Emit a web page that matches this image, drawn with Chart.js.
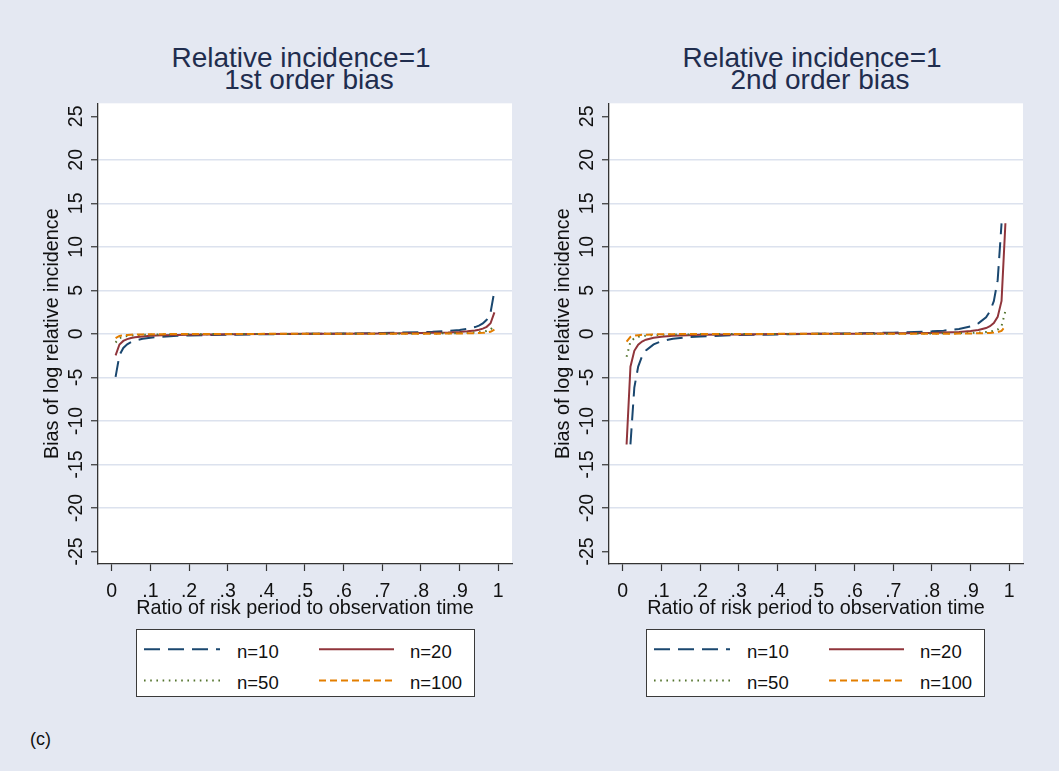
<!DOCTYPE html>
<html>
<head>
<meta charset="utf-8">
<script src="https://cdn.jsdelivr.net/npm/chart.js@4/dist/chart.umd.min.js"></script>
<style>
html,body{margin:0;padding:0;}
body{width:1059px;height:771px;background:rgb(228,232,242);position:relative;overflow:hidden;font-family:"Liberation Sans",Arial,sans-serif;}
canvas.panel{position:absolute;top:0;}
.t{position:absolute;white-space:nowrap;color:#1f2d4e;font-size:28px;line-height:28px;transform:translateX(-50%);}
.legend{position:absolute;top:629px;width:339px;height:68px;background:#fff;border:1px solid #3a3a3a;box-sizing:border-box;}
.legend svg{position:absolute;left:0;top:0;}
.legend span{position:absolute;font-size:18.5px;line-height:18px;color:#111;white-space:nowrap;}
.note{position:absolute;left:30px;top:730px;font-size:18px;line-height:18px;color:#111;}
</style>
</head>
<body>
<div class="t" style="left:301px;top:44px;">Relative incidence=1</div>
<div class="t" style="left:309px;top:66px;">1st order bias</div>
<div class="t" style="left:812px;top:44px;">Relative incidence=1</div>
<div class="t" style="left:820px;top:66px;">2nd order bias</div>
<canvas class="panel" id="c1" width="530" height="640" style="left:0px;"></canvas>
<canvas class="panel" id="c2" width="530" height="640" style="left:511px;"></canvas>
<div class="legend" id="lg1" style="left:136px;"></div>
<div class="legend" id="lg2" style="left:646px;"></div>
<div class="note">(c)</div>
<script>
// ---- data ----
const ratio = [0.01,0.02,0.03,0.04,0.05,0.06,0.08,0.10,0.13,0.17,0.20,0.30,0.40,0.50,0.60,0.70,0.80,0.83,0.87,0.90,0.92,0.94,0.95,0.96,0.97,0.98,0.99];

const first_n10  = [-4.95,-2.45,-1.62,-1.20,-0.95,-0.78,-0.57,-0.44,-0.33,-0.23,-0.19,-0.10,-0.04,0,0.04,0.10,0.19,0.23,0.33,0.44,0.57,0.78,0.95,1.20,1.62,2.45,4.95];
const first_n20  = [-2.47,-1.22,-0.81,-0.60,-0.47,-0.39,-0.29,-0.22,-0.16,-0.12,-0.09,-0.05,-0.02,0,0.02,0.05,0.09,0.12,0.16,0.22,0.29,0.39,0.47,0.60,0.81,1.22,2.47];
const first_n50  = [-0.99,-0.49,-0.32,-0.24,-0.19,-0.16,-0.11,-0.09,-0.07,-0.05,-0.04,-0.02,-0.01,0,0.01,0.02,0.04,0.05,0.07,0.09,0.11,0.16,0.19,0.24,0.32,0.49,0.99];
const first_n100 = [-0.49,-0.24,-0.16,-0.12,-0.09,-0.08,-0.06,-0.04,-0.03,-0.02,-0.02,-0.01,0,0,0,0.01,0.02,0.02,0.03,0.04,0.06,0.08,0.09,0.12,0.16,0.24,0.49];

const second_n10  = [null,-12.70,-6.17,-3.76,-2.58,-1.91,-1.21,-0.85,-0.56,-0.37,-0.29,-0.14,-0.06,0,0.06,0.14,0.29,0.37,0.56,0.85,1.21,1.91,2.58,3.76,6.17,12.70,null];
const second_n20  = [-12.72,-3.78,-1.95,-1.24,-0.88,-0.67,-0.45,-0.32,-0.22,-0.15,-0.11,-0.06,-0.02,0,0.02,0.06,0.11,0.15,0.22,0.32,0.45,0.67,0.88,1.24,1.95,3.78,12.72];
const second_n50  = [-2.63,-0.90,-0.50,-0.34,-0.26,-0.21,-0.14,-0.11,-0.08,-0.06,-0.04,-0.02,-0.01,0,0.01,0.02,0.04,0.06,0.08,0.11,0.14,0.21,0.26,0.34,0.50,0.90,2.63];
const second_n100 = [-0.90,-0.34,-0.21,-0.15,-0.11,-0.09,-0.07,-0.04,-0.03,-0.02,-0.02,-0.01,0,0,0,0.01,0.02,0.02,0.03,0.04,0.07,0.09,0.11,0.15,0.21,0.34,0.90];

const seriesNames = ["n=10","n=20","n=50","n=100"];
const xTicks = [0,0.1,0.2,0.3,0.4,0.5,0.6,0.7,0.8,0.9,1];
const xTickLabels = ["0",".1",".2",".3",".4",".5",".6",".7",".8",".9","1"];
const yTicks = [-25,-20,-15,-10,-5,0,5,10,15,20,25];
const yTickLabels = ["-25","-20","-15","-10","-5","0","5","10","15","20","25"];
const xTitle = "Ratio of risk period to observation time";
const yTitle = "Bias of log relative incidence";

// ---- styles ----
const seriesColors = ["#1a476f","#90353b","#55752f","#e37e00"];
const seriesDash = [[16,8],[],[1.6,4.6],[7,4]];
const seriesOrder = [4,3,2,1];

Chart.defaults.font.family = "'Liberation Sans', Arial, sans-serif";

const bgPlugin = {
  id:'plotbg',
  beforeDraw(chart){
    const {ctx, chartArea:a} = chart;
    ctx.save(); ctx.fillStyle = '#ffffff';
    ctx.fillRect(a.left, a.top, a.right - a.left, a.bottom - a.top);
    ctx.restore();
  }
};

function makeChart(id, seriesArrays){
  const datasets = seriesArrays.map((arr, k) => ({
    label: seriesNames[k],
    data: ratio.map((p, i) => ({x: p, y: arr[i]})),
    borderColor: seriesColors[k],
    borderDash: seriesDash[k],
    borderWidth: 2,
    pointRadius: 0,
    tension: 0,
    fill: false,
    spanGaps: false,
    order: seriesOrder[k]
  }));
  return new Chart(document.getElementById(id), {
    type: 'line',
    data: { datasets },
    plugins: [bgPlugin],
    options: {
      responsive: false,
      animation: false,
      devicePixelRatio: 1,
      layout: { padding: { top: 103.3, right: 18, bottom: 0, left: 0 } },
      plugins: { legend: { display: false }, title: { display: false }, tooltip: { enabled: false } },
      scales: {
        x: {
          type: 'linear', min: -0.0355, max: 1.0355,
          afterBuildTicks: s => { s.ticks = xTicks.map(v => ({ value: v })); },
          afterFit: s => { s.height = 76; },
          ticks: { callback: (v, i) => xTickLabels[i], font: { size: 19.5 }, color: '#111', padding: 9, maxRotation: 0, autoSkip: false },
          grid: { drawOnChartArea: false, tickLength: 7, tickColor: '#333', tickWidth: 1.2 },
          border: { color: '#333', width: 1.3 },
          title: { display: true, text: xTitle, font: { size: 19.8 }, color: '#111', padding: { top: 0, bottom: 19.5 } }
        },
        y: {
          type: 'linear', min: -26.45, max: 26.5,
          afterBuildTicks: s => { s.ticks = yTicks.map(v => ({ value: v })); },
          afterFit: s => { s.width = 98; },
          ticks: { callback: (v, i) => yTickLabels[i], font: { size: 19.5 }, color: '#111', padding: 0, minRotation: 90, maxRotation: 90, crossAlign: 'center', autoSkip: false },
          grid: { color: c => (c.tick && Math.abs(c.tick.value) === 25 ? 'rgba(0,0,0,0)' : '#dce2ee'), lineWidth: 1.5, tickLength: 7, tickColor: '#333', tickWidth: 1.2 },
          border: { color: '#333', width: 1.3 },
          title: { display: true, text: yTitle, font: { size: 19.8 }, color: '#111', padding: { top: 41, bottom: 0 } }
        }
      }
    }
  });
}

makeChart('c1', [first_n10, first_n20, first_n50, first_n100]);
makeChart('c2', [second_n10, second_n20, second_n50, second_n100]);

function makeLegend(id){
  const box = document.getElementById(id);
  const ns = 'http://www.w3.org/2000/svg';
  const svg = document.createElementNS(ns, 'svg');
  svg.setAttribute('width', '339'); svg.setAttribute('height', '68');
  const cols = [{x1: 7, x2: 83, tx: 100}, {x1: 182, x2: 257, tx: 273}];
  const rows = [{ly: 19.3, ty: 12.5}, {ly: 50.5, ty: 44}];
  seriesNames.forEach((name, k) => {
    const c = cols[k % 2], r = rows[Math.floor(k / 2)];
    const ln = document.createElementNS(ns, 'line');
    ln.setAttribute('x1', c.x1); ln.setAttribute('x2', c.x2);
    ln.setAttribute('y1', r.ly); ln.setAttribute('y2', r.ly);
    ln.setAttribute('stroke', seriesColors[k]);
    ln.setAttribute('stroke-width', '2');
    if (seriesDash[k].length) ln.setAttribute('stroke-dasharray', seriesDash[k].join(' '));
    svg.appendChild(ln);
    const sp = document.createElement('span');
    sp.textContent = name;
    sp.style.left = c.tx + 'px'; sp.style.top = r.ty + 'px';
    box.appendChild(sp);
  });
  box.appendChild(svg);
}
makeLegend('lg1');
makeLegend('lg2');
</script>
</body>
</html>
